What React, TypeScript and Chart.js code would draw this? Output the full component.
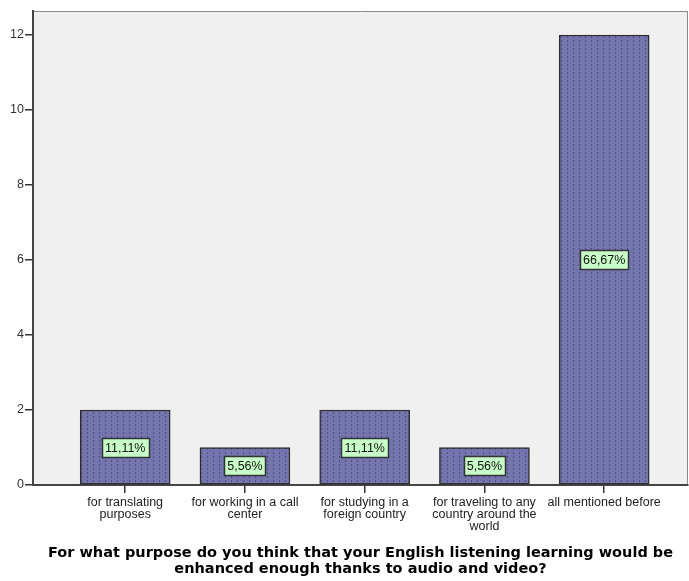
import React, { useEffect, useRef } from "react";
import { Chart, registerables } from "chart.js";

Chart.register(...registerables);

const categories: string[][] = [
  ["for translating", "purposes"],
  ["for working in a call", "center"],
  ["for studying in a", "foreign country"],
  ["for traveling to any", "country around the", "world"],
  ["all mentioned before"],
];
const counts: number[] = [2, 1, 2, 1, 12];
const percentLabels: string[] = ["11,11%", "5,56%", "11,11%", "5,56%", "66,67%"];
const yTicks: number[] = [0, 2, 4, 6, 8, 10, 12];
const titleLines: string[] = [
  "For what purpose do you think that your English listening learning would be",
  "enhanced enough thanks to audio and video?",
];

const FONT = "'Liberation Sans', Arial, sans-serif";
const TITLE_FONT = "'DejaVu Sans', sans-serif";

function makePattern(): CanvasPattern | string {
  const c = document.createElement("canvas");
  c.width = 6;
  c.height = 4;
  const g = c.getContext("2d");
  if (!g) return "#7373AB";
  g.fillStyle = "#7575AD";
  g.fillRect(0, 0, 6, 4);
  g.fillStyle = "#50508A";
  g.fillRect(3, 0, 1, 2);
  return g.createPattern(c, "repeat") || "#7373AB";
}

const bgPlugin = {
  id: "plotBg",
  beforeDraw(chart: any) {
    const { ctx, chartArea } = chart;
    ctx.save();
    ctx.fillStyle = "#F0F0F0";
    ctx.fillRect(chartArea.left, chartArea.top, chartArea.right - chartArea.left, chartArea.bottom - chartArea.top);
    ctx.strokeStyle = "#8A8A8A";
    ctx.lineWidth = 1;
    ctx.beginPath();
    ctx.moveTo(chartArea.left, chartArea.top + 0.5);
    ctx.lineTo(chartArea.right, chartArea.top + 0.5);
    ctx.moveTo(chartArea.right - 0.5, chartArea.top);
    ctx.lineTo(chartArea.right - 0.5, chartArea.bottom);
    ctx.stroke();
    ctx.restore();
  },
};

const labelPlugin = {
  id: "pctLabels",
  afterDatasetsDraw(chart: any) {
    const { ctx } = chart;
    const meta = chart.getDatasetMeta(0);
    ctx.save();
    ctx.font = `12.5px ${FONT}`;
    ctx.textAlign = "center";
    ctx.textBaseline = "middle";
    meta.data.forEach((el: any, i: number) => {
      const text = percentLabels[i];
      const cx = el.x;
      const cy = (el.y + el.base) / 2;
      const w = Math.round(ctx.measureText(text).width + 6);
      const h = 19;
      const x0 = Math.round(cx - w / 2) + 0.5;
      const y0 = Math.round(cy - h / 2) + 0.5;
      ctx.fillStyle = "#C8FFC8";
      ctx.fillRect(x0, y0, w, h);
      ctx.strokeStyle = "#333333";
      ctx.lineWidth = 1.5;
      ctx.strokeRect(x0, y0, w, h);
      ctx.fillStyle = "#111111";
      ctx.fillText(text, cx, cy + 1);
    });
    ctx.restore();
  },
};

export default function App() {
  const ref = useRef<HTMLCanvasElement>(null);
  useEffect(() => {
    if (!ref.current) return;
    const pattern = makePattern();
    const chart = new Chart(ref.current, {
      type: "bar",
      data: {
        datasets: [
          {
            data: counts.map((v, i) => ({ x: i, y: v })),
            backgroundColor: pattern as any,
            borderColor: "#2E2E2E",
            borderWidth: 1.5,
            borderSkipped: false,
            barThickness: 90,
          },
        ],
      },
      options: {
        animation: false,
        responsive: false,
        maintainAspectRatio: false,
        layout: { padding: { top: 11, right: 1, left: 0, bottom: 0 } },
        plugins: { legend: { display: false }, tooltip: { enabled: false } },
        scales: {
          x: {
            type: "linear",
            offset: false,
            min: -0.77,
            max: 4.7,
            afterBuildTicks: (s: any) => {
              s.ticks = categories.map((_, i) => ({ value: i }));
            },
            afterFit: (s: any) => {
              s.height = 96;
            },
            ticks: {
              autoSkip: false,
              maxRotation: 0,
              padding: 4,
              color: "#222222",
              font: { family: FONT, size: 12.5, lineHeight: 0.93 },
              callback: (v: any) => categories[Number(v)] ?? "",
            },
            grid: {
              display: true,
              offset: false,
              drawOnChartArea: false,
              drawTicks: true,
              tickLength: 8,
              color: "#333333",
              lineWidth: 1.5,
            },
            border: { display: true, color: "#444444", width: 2 },
            title: {
              display: true,
              text: titleLines,
              color: "#000000",
              font: { family: TITLE_FONT, size: 14.5, weight: "bold", lineHeight: 1.1 },
              padding: { top: 0, bottom: 4 },
            },
          },
          y: {
            min: 0,
            max: 12.64,
            afterBuildTicks: (s: any) => {
              s.ticks = yTicks.map((v) => ({ value: v }));
            },
            afterFit: (s: any) => {
              s.width = 33;
            },
            ticks: {
              padding: 1,
              color: "#333333",
              font: { family: FONT, size: 12.5 },
            },
            grid: {
              display: true,
              drawOnChartArea: false,
              drawTicks: true,
              tickLength: 8,
              color: "#333333",
              lineWidth: 1.5,
            },
            border: { display: true, color: "#444444", width: 2 },
          },
        },
      },
      plugins: [bgPlugin, labelPlugin],
    });
    return () => chart.destroy();
  }, []);
  return (
    <div style={{ position: "absolute", left: 0, top: 0, width: 689, height: 581, background: "#fff" }}>
      <canvas ref={ref} width={689} height={581} style={{ width: 689, height: 581, display: "block" }} />
    </div>
  );
}
